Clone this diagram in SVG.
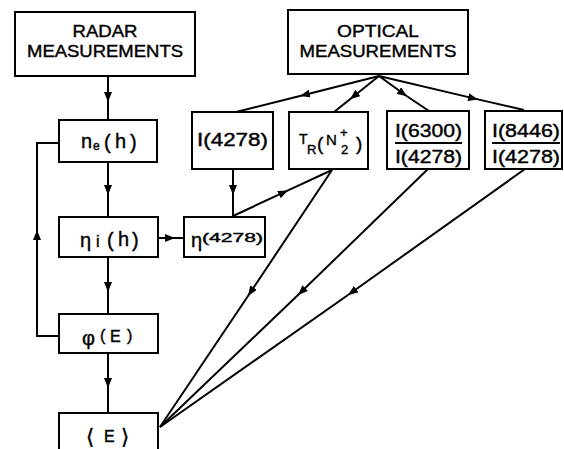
<svg xmlns="http://www.w3.org/2000/svg" width="564" height="449" viewBox="0 0 564 449">
<style>
.box{fill:#fff;stroke:#000;stroke-width:2}
.ln{fill:none;stroke:#000;stroke-width:2}
.a{marker-mid:url(#ah)}
.ae{marker-end:url(#ah)}
text{font-family:"Liberation Sans","DejaVu Sans",sans-serif;fill:#000;stroke:#000;stroke-width:0.4}
.t17{font-size:17px}
.t18{font-size:18px}
.dv{font-family:"DejaVu Sans",sans-serif}
</style>
<defs>
<marker id="ah" markerUnits="userSpaceOnUse" markerWidth="10" markerHeight="8" refX="10" refY="4" orient="auto">
<path d="M0,0 L10,4 L0,8 z" fill="#000"/>
</marker>
</defs>
<g id="connectors">
<path class="ln a" d="M108,76 L108,102 L108,120"/>
<path class="ln a" d="M108,162 L108,195 L108,217"/>
<path class="ln a" d="M108,257 L108,292 L108,314"/>
<path class="ln a" d="M108,353 L108,388 L108,413"/>
<path class="ln a" d="M233,169 L233,195 L233,217"/>
<path class="ln a" d="M158,238 L175,238 L184,238"/>
<path class="ln ae" d="M59,336 L37,336 L37,230"/>
<path class="ln" d="M37,230 L37,143 L59,143"/>
<path class="ln a" d="M233,216 L288,190.4 L332,170"/>
<path class="ln a" d="M379,76 L300,96 L236,112"/>
<path class="ln a" d="M379,76 L350,99.2 L334,112"/>
<path class="ln a" d="M379,76 L407,96.3 L429,111"/>
<path class="ln a" d="M379,76 L478,99.4 L524,110"/>
<path class="ln a" d="M332,170 L248,296 L160,427"/>
<path class="ln a" d="M428,169 L298,295 L160,427"/>
<path class="ln a" d="M525,169 L348,295 L160,427"/>
</g>
<g id="radar">
<rect class="box" x="15" y="12" width="180" height="64"/>
<text class="t17" x="105" y="37" text-anchor="middle" textLength="65" lengthAdjust="spacingAndGlyphs">RADAR</text>
<text class="t17" x="105" y="57" text-anchor="middle" textLength="156" lengthAdjust="spacingAndGlyphs">MEASUREMENTS</text>
</g>
<g id="optical">
<rect class="box" x="288" y="10" width="180" height="64"/>
<text class="t17" x="378" y="37" text-anchor="middle" textLength="82" lengthAdjust="spacingAndGlyphs">OPTICAL</text>
<text class="t17" x="378" y="57" text-anchor="middle" textLength="157" lengthAdjust="spacingAndGlyphs">MEASUREMENTS</text>
</g>
<g id="ne">
<rect class="box" x="59" y="120" width="98" height="42"/>
<text font-size="20" x="81" y="148">n</text>
<text font-size="12" x="93" y="150">e</text>
<text font-size="20" x="104" y="149">(</text>
<text font-size="20" x="115" y="148">h</text>
<text font-size="20" x="130" y="149">)</text>
</g>
<g id="etai">
<rect class="box" x="59" y="217" width="99" height="40"/>
<text font-size="20" x="80" y="247">η</text>
<text font-size="16" x="96" y="247">i</text>
<text font-size="20" x="107" y="247">(</text>
<text font-size="20" x="118" y="246">h</text>
<text font-size="20" x="132" y="247">)</text>
</g>
<g id="phi">
<rect class="box" x="59" y="314" width="99" height="39"/>
<text font-size="20" x="82" y="345">φ</text>
<text font-size="16" x="100" y="341">(</text>
<text font-size="16" x="110" y="342">E</text>
<text font-size="16" x="127" y="341">)</text>
</g>
<g id="E">
<rect class="box" x="59" y="413" width="99" height="40"/>
<text class="dv" font-size="21" x="86" y="444">⟨</text>
<text font-size="16" x="104" y="442">E</text>
<text class="dv" font-size="21" x="121" y="444">⟩</text>
</g>
<g id="eta4278">
<rect class="box" x="184" y="217" width="81" height="40"/>
<text font-size="20" x="191" y="247">η</text>
<text font-size="13" x="202" y="242" textLength="61" lengthAdjust="spacingAndGlyphs">(4278)</text>
</g>
<g id="I4278">
<rect class="box" x="192" y="112" width="81" height="57"/>
<text class="t18" x="197" y="146" textLength="71" lengthAdjust="spacingAndGlyphs">I(4278)</text>
</g>
<g id="TR">
<rect class="box" x="289" y="112" width="79" height="57"/>
<text font-size="14" x="299" y="144">T</text>
<text font-size="13" x="307" y="154">R</text>
<text font-size="19" x="317" y="150">(</text>
<text font-size="15" x="326" y="145">N</text>
<text font-size="13" x="340" y="137">+</text>
<text font-size="13" x="341" y="154">2</text>
<text font-size="19" x="356" y="150">)</text>
</g>
<g id="I6300">
<rect class="box" x="387" y="111" width="82" height="58"/>
<text class="t18" x="395" y="137" textLength="67" lengthAdjust="spacingAndGlyphs">I(6300)</text>
<line class="ln" x1="395" y1="143" x2="462" y2="143"/>
<text class="t18" x="395" y="163" textLength="67" lengthAdjust="spacingAndGlyphs">I(4278)</text>
</g>
<g id="I8446">
<rect class="box" x="485" y="111" width="77" height="58"/>
<text class="t18" x="492" y="137" textLength="68" lengthAdjust="spacingAndGlyphs">I(8446)</text>
<line class="ln" x1="492" y1="143" x2="560" y2="143"/>
<text class="t18" x="492" y="163" textLength="68" lengthAdjust="spacingAndGlyphs">I(4278)</text>
</g>
</svg>
